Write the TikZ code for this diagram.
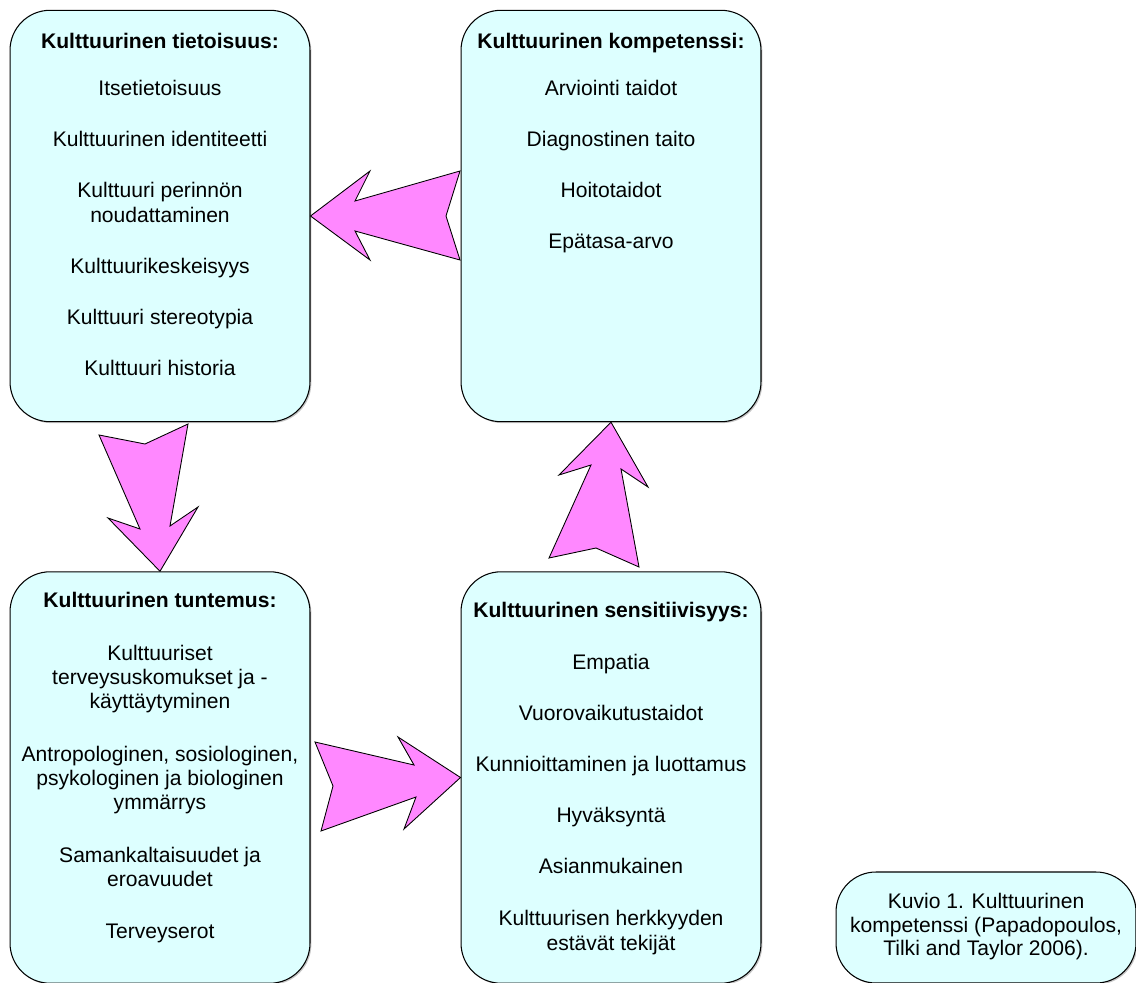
\documentclass[tikz,border=0pt]{standalone}
\usepackage{fontspec}
\setmainfont{Liberation Sans}
\usetikzlibrary{shapes,shadows}
\definecolor{boxcyan}{HTML}{DDFFFF}
\definecolor{arrowpink}{HTML}{FF88FF}

\begin{document}
\begin{tikzpicture}[x=0.02cm,y=-0.02cm]
\tikzset{box/.style = {draw,fill=boxcyan,rounded corners=0.8cm,minimum width=6cm,minimum height=8.23cm,line width=.6pt,drop shadow={shadow xshift=.8pt,shadow yshift=-.8pt,fill=black!45}}}
\tikzset{txt/.style = {anchor=north,align=center,inner sep=0pt,font=\fontsize{12}{14.2}\selectfont}}
\tikzset{bigarrow/.style = {draw,fill=arrowpink,line width=.5pt,line join=miter}}
\useasboundingbox (0,0) rectangle (1136,983);

% boxes
\node[box] (tietoisuus) at (160,216) {};
\node[box] (kompetenssi) at (611,216) {};
\node[box] (tuntemus) at (160,777.5) {};
\node[box] (sensitiivisyys) at (611,777.5) {};
\node[box,minimum height=2.22cm] (kuvio) at (986,927.5) {};

% texts
\node[txt] (tietoisuus-t) at ([yshift=-13pt]tietoisuus.north) {\textbf{Kulttuurinen tietoisuus:}\\[12.5pt]
  Itsetietoisuus\\[14.9pt] Kulttuurinen identiteetti\\[14.9pt] Kulttuuri perinnön\\ noudattaminen\\[14.9pt]
  Kulttuurikeskeisyys\\[14.9pt] Kulttuuri stereotypia\\[14.9pt] Kulttuuri historia};
\node[txt] (kompetenssi-t) at ([yshift=-13pt]kompetenssi.north) {\textbf{Kulttuurinen kompetenssi:}\\[12.5pt]
  Arviointi taidot\\[14.9pt] Diagnostinen taito\\[14.9pt] Hoitotaidot\\[14.9pt] Epätasa-arvo};
\node[txt,font=\fontsize{12}{13.8}\selectfont] (tuntemus-t) at ([yshift=-12pt]tuntemus.north) {\textbf{Kulttuurinen tuntemus:}\\[16pt]
  Kulttuuriset\\ terveysuskomukset ja -\\ käyttäytyminen\\[16pt]
  Antropologinen, sosiologinen,\\ psykologinen ja biologinen\\ ymmärrys\\[16pt]
  Samankaltaisuudet ja\\ eroavuudet\\[16pt] Terveyserot};
\node[txt] (sensitiivisyys-t) at ([yshift=-17.6pt]sensitiivisyys.north) {\textbf{Kulttuurinen sensitiivisyys:}\\[15.2pt]
  Empatia\\[14.9pt] Vuorovaikutustaidot\\[14.9pt] Kunnioittaminen ja luottamus\\[14.9pt]
  Hyväksyntä\\[14.9pt] Asianmukainen\\[14.9pt] Kulttuurisen herkkyyden\\ estävät tekijät};
\node[txt,font=\fontsize{12}{13.6}\selectfont] (kuvio-t) at ([yshift=-12pt]kuvio.north) {Kuvio 1. Kulttuurinen\\ kompetenssi (Papadopoulos,\\ Tilki and Taylor 2006).};

% arrows
\draw[bigarrow] (tietoisuus.east) -- (370,171) -- (355,201) -- (460,171) -- (446,216) -- (460,260) -- (355,231) -- (370,260) -- cycle;
\draw[bigarrow] (tuntemus.north) -- (108,518) -- (140,529) -- (99,435) -- (145,444) -- (188,424) -- (170,526) -- (198,507) -- cycle;
\draw[bigarrow] (kompetenssi.south) -- (648,487) -- (621,469) -- (639,567) -- (596,548) -- (549,558) -- (591,465) -- (559,475) -- cycle;
\draw[bigarrow] (sensitiivisyys.west) -- (404,829) -- (416,797) -- (321,831) -- (333,786) -- (315,742) -- (414,765) -- (398,737) -- cycle;

\end{tikzpicture}
\end{document}
